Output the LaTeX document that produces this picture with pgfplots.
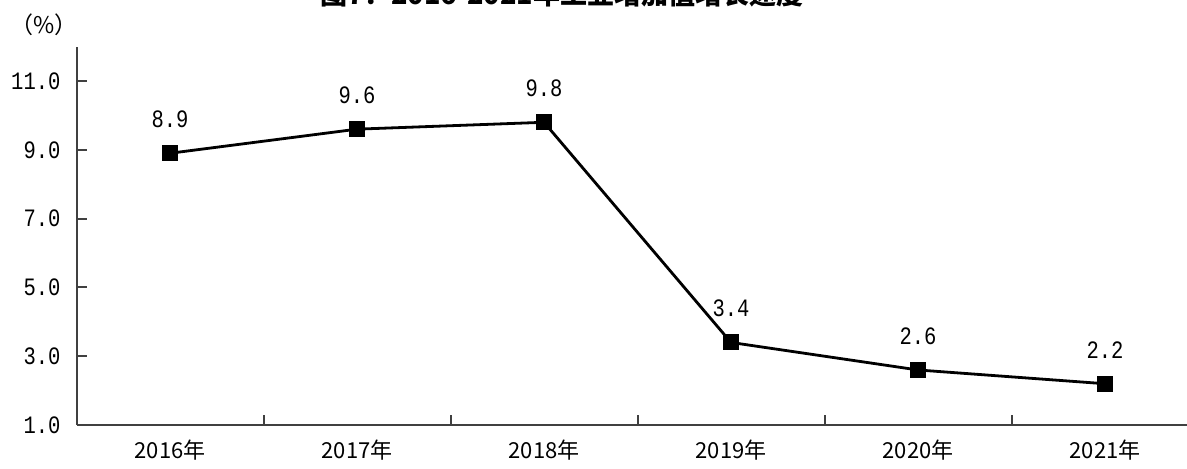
\documentclass[border=0pt]{standalone}
\usepackage{pgfplots}
\pgfplotsset{compat=1.18}
\usepackage{fontspec}
\setmainfont{Liberation Mono}
\newfontfamily\mono{Liberation Mono}[FakeStretch=0.82]
\newfontfamily\cjk{Noto Sans CJK SC}
\definecolor{axisgray}{HTML}{404040}
\begin{document}
\begin{tikzpicture}
\begin{axis}[
  scale only axis,
  width=561pt, height=189.2pt,
  xmin=0.5, xmax=6.5, ymin=1, ymax=12,
  axis x line*=bottom, axis y line*=left,
  axis line style={line width=1pt, color=axisgray},
  xtick={1.5,2.5,3.5,4.5,5.5},
  xticklabels={},
  extra x ticks={1,2,3,4,5,6},
  extra x tick labels={2016年,2017年,2018年,2019年,2020年,2021年},
  extra x tick style={major tick length=0pt, tick label style={font=\cjk\fontsize{11}{13}\selectfont, yshift=-4pt}},
  ytick={1,3,5,7,9,11},
  yticklabels={1.0,3.0,5.0,7.0,9.0,11.0},
  y tick label style={font=\mono\fontsize{12.5}{14}\selectfont, xshift=-4.5pt},
  tick align=inside,
  major tick length=5pt,
  tick style={line width=1pt, color=axisgray},
  clip=false,
]
\addplot[black, line width=1.4pt, mark=square*, mark size=3.3pt,
  mark options={solid},
  nodes near coords, point meta=explicit symbolic,
  every node near coord/.style={anchor=center, yshift=17pt, font=\mono\fontsize{12.5}{14}\selectfont, text=black}]
  table[meta=label] {
x y label
1 8.9 8.9
2 9.6 9.6
3 9.8 9.8
4 3.4 3.4
5 2.6 2.6
6 2.2 2.2
};
\coordinate (sw) at (rel axis cs:0,0);
\end{axis}
\pgfresetboundingbox
\path[use as bounding box] ([shift={(-38.25pt,-21.5pt)}]sw) rectangle ([shift={(555.25pt,212.5pt)}]sw);
\node[anchor=south, inner sep=0pt, font=\cjk\bfseries\fontsize{13.5}{15}\selectfont] at ([shift={(242.75pt,209pt)}]sw) {图7：2016-2021年工业增加值增长速度};
\node[anchor=center, inner sep=0pt, font=\cjk\fontsize{11.5}{13}\selectfont] at ([shift={(-16.25pt,200pt)}]sw) {（\%）};
\end{tikzpicture}
\end{document}
